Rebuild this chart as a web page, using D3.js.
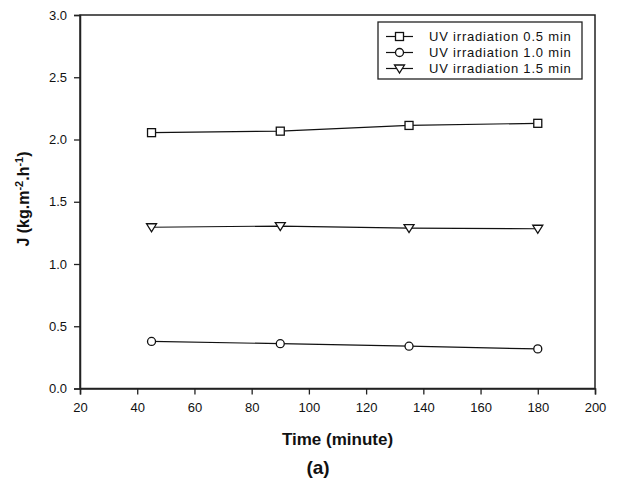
<!DOCTYPE html>
<html>
<head>
<meta charset="utf-8">
<script src="https://cdn.jsdelivr.net/npm/d3@7"></script>
<style>
body{margin:0;background:#fff;}
svg text{font-family:"Liberation Sans",Arial,sans-serif;fill:#111;}
</style>
</head>
<body>
<div id="chart"></div>
<script>
// data
var times = [45, 90, 135, 180];
var uv05 = [2.055, 2.067, 2.113, 2.13];
var uv10 = [0.378, 0.36, 0.34, 0.318];
var uv15 = [1.295, 1.305, 1.288, 1.283];
var seriesNames = ["UV irradiation 0.5 min", "UV irradiation 1.0 min", "UV irradiation 1.5 min"];
var seriesMarkers = ["square", "circle", "triangle"];
var xTicks = [20, 40, 60, 80, 100, 120, 140, 160, 180, 200];
var yTicks = [0.0, 0.5, 1.0, 1.5, 2.0, 2.5, 3.0];

var W = 618, H = 480;
var m = {left:80, right:23, top:15, bottom:92};

var svg = d3.select("#chart").append("svg").attr("width", W).attr("height", H);

var x = d3.scaleLinear().domain([20, 200]).range([m.left, W - m.right]);
var y = d3.scaleLinear().domain([0, 3]).range([H - m.bottom + 0.5, m.top]);

// frame
svg.append("rect").attr("x", x(20)).attr("y", y(3))
	.attr("width", x(200) - x(20)).attr("height", y(0) - y(3))
	.attr("fill", "none").attr("stroke", "#222").attr("stroke-width", 1.5);

var xAxis = svg.append("g").attr("transform", "translate(0," + y(0) + ")")
	.call(d3.axisBottom(x).tickValues(xTicks).tickSize(6).tickPadding(8).tickFormat(d3.format("d")));
var yAxis = svg.append("g").attr("transform", "translate(" + x(20) + ",0)")
	.call(d3.axisLeft(y).tickValues(yTicks).tickSize(6).tickPadding(7).tickFormat(d3.format(".1f")));
[xAxis, yAxis].forEach(function(a){
	a.select(".domain").attr("stroke", "#222").attr("stroke-width", 1.5);
	a.selectAll(".tick line").attr("stroke", "#222").attr("stroke-width", 1.3);
	a.selectAll(".tick text").attr("font-size", 13).attr("fill", "#222")
		.attr("font-family", "'Liberation Sans',Arial,sans-serif");
});

function drawMarker(g, type, cx, cy)
{
	if(type == "square")
		g.append("rect").attr("x", cx - 4).attr("y", cy - 4).attr("width", 8).attr("height", 8)
			.attr("fill", "#fff").attr("stroke", "#111").attr("stroke-width", 1.3);
	else if(type == "circle")
		g.append("circle").attr("cx", cx).attr("cy", cy).attr("r", 4)
			.attr("fill", "#fff").attr("stroke", "#111").attr("stroke-width", 1.3);
	else
		g.append("path").attr("d", "M" + (cx - 5) + "," + (cy - 3.5) + "L" + (cx + 5) + "," + (cy - 3.5) + "L" + cx + "," + (cy + 4.5) + "Z")
			.attr("fill", "#fff").attr("stroke", "#111").attr("stroke-width", 1.3);
}

var allSeries = [uv05, uv10, uv15];
var line = d3.line().x(function(d, i){ return x(times[i]); }).y(function(d){ return y(d); });

allSeries.forEach(function(vals, k){
	var g = svg.append("g");
	g.append("path").datum(vals).attr("d", line)
		.attr("fill", "none").attr("stroke", "#111").attr("stroke-width", 1.2);
	vals.forEach(function(v, i){ drawMarker(g, seriesMarkers[k], x(times[i]), y(v)); });
});

// legend
var lg = svg.append("g");
lg.append("rect").attr("x", 378).attr("y", 22).attr("width", 204).attr("height", 57)
	.attr("fill", "#fff").attr("stroke", "#222").attr("stroke-width", 1.3);
seriesNames.forEach(function(name, k){
	var ly = 36.5 + k * 16;
	lg.append("line").attr("x1", 386).attr("x2", 413).attr("y1", ly).attr("y2", ly)
		.attr("stroke", "#111").attr("stroke-width", 1.2);
	drawMarker(lg, seriesMarkers[k], 399.5, ly);
	lg.append("text").attr("x", 429).attr("y", ly + 4.8).attr("font-size", 13)
		.attr("letter-spacing", 0.8).text(name);
});

// axis titles
svg.append("text").attr("x", (x(20) + x(200)) / 2).attr("y", 445).attr("text-anchor", "middle")
	.attr("font-size", 17).attr("font-weight", "bold").text("Time (minute)");
svg.append("text").attr("x", 318).attr("y", 474).attr("text-anchor", "middle")
	.attr("font-size", 19).attr("font-weight", "bold")
	.attr("font-family", "'DejaVu Sans',sans-serif").text("(a)");

var yt = svg.append("text").attr("transform", "translate(29,199) rotate(-90)")
	.attr("text-anchor", "middle").attr("font-size", 16).attr("font-weight", "bold");
yt.append("tspan").text("J (kg.m");
yt.append("tspan").attr("dy", -6).attr("font-size", 11).text("-2");
yt.append("tspan").attr("dy", 6).text(".h");
yt.append("tspan").attr("dy", -6).attr("font-size", 11).text("-1");
yt.append("tspan").attr("dy", 6).text(")");
</script>
</body>
</html>
